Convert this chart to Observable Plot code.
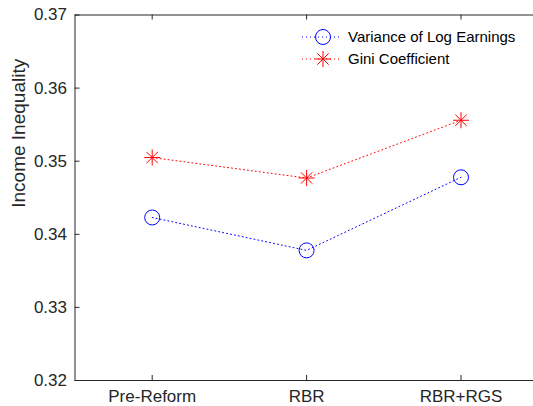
<!DOCTYPE html>
<html><head><meta charset="utf-8">
<script src="https://cdn.jsdelivr.net/npm/d3@7"></script>
<script src="https://cdn.jsdelivr.net/npm/@observablehq/plot@0.6"></script>
<style>
html,body{margin:0;padding:0;background:#fff;overflow:hidden;}
#wrap{position:relative;width:533px;height:406px;overflow:hidden;}
#legend{position:absolute;left:0;top:0;}
</style></head><body><div id="wrap"></div>
<script>
const categories = ["Pre-Reform", "RBR", "RBR+RGS"];
const varianceLogEarnings = [0.3423, 0.3378, 0.3478];
const giniCoefficient = [0.3505, 0.3477, 0.3556];
const yTicks = [0.32, 0.33, 0.34, 0.35, 0.36, 0.37];
const seriesNames = ["Variance of Log Earnings", "Gini Coefficient"];
const yLabel = "Income Inequality";

const xTicks = categories.map((c, i) => i + 1);
const varData = categories.map((c, i) => ({x: i + 1, y: varianceLogEarnings[i]}));
const giniData = categories.map((c, i) => ({x: i + 1, y: giniCoefficient[i]}));

const axisColor = "#262626";
const font = "'Liberation Sans', Arial, Helvetica, sans-serif";
const blue = "#0000ff", red = "#ff0000";

const asterisk = {
  draw(ctx, size) {
    const r = Math.sqrt(size / Math.PI);
    const d = r * Math.SQRT1_2;
    ctx.moveTo(-r, 0); ctx.lineTo(r, 0);
    ctx.moveTo(0, -r); ctx.lineTo(0, r);
    ctx.moveTo(-d, -d); ctx.lineTo(d, d);
    ctx.moveTo(-d, d); ctx.lineTo(d, -d);
  }
};

const chart = Plot.plot({
  width: 533,
  height: 406,
  marginLeft: 74.5,
  marginRight: -4.7,
  marginTop: 14.5,
  marginBottom: 26,
  style: {fontFamily: font, background: "#fff", overflow: "hidden"},
  x: {domain: [0.5, 3.5], axis: null},
  y: {domain: [0.32, 0.37], axis: null},
  marks: [
    Plot.frame({stroke: axisColor, strokeWidth: 1}),
    Plot.ruleY(yTicks, {x1: 0.5, x2: 0.5, y: d => d, insetRight: -5, stroke: axisColor}),
    Plot.ruleX(xTicks, {x: d => d, y1: 0.32, y2: 0.32, insetBottom: 5, stroke: axisColor}),
    Plot.ruleX(xTicks, {x: d => d, y1: 0.37, y2: 0.37, insetTop: 5, stroke: axisColor}),
    Plot.axisY(yTicks, {anchor: "left", tickSize: 0, tickPadding: 8, tickFormat: d3.format(".2f"), fontSize: 17, fill: axisColor, label: null}),
    Plot.axisX(xTicks, {anchor: "bottom", tickSize: 0, tickPadding: 9, tickFormat: d => categories[d - 1], fontSize: 17, fill: axisColor, label: null}),
    Plot.text([yLabel], {frameAnchor: "left", rotate: -90, dx: -56, dy: 10, text: d => d, fontSize: 19, fill: axisColor}),
    Plot.line(varData, {x: "x", y: "y", stroke: blue, strokeWidth: 1, strokeDasharray: "1,3"}),
    Plot.line(giniData, {x: "x", y: "y", stroke: red, strokeWidth: 1, strokeDasharray: "1,3"}),
    Plot.dot(varData, {x: "x", y: "y", r: 7.5, symbol: "circle", stroke: blue, fill: "none", strokeWidth: 1}),
    Plot.dot(giniData, {x: "x", y: "y", r: 8, symbol: asterisk, stroke: red, fill: "none", strokeWidth: 1})
  ]
});

const wrap = document.getElementById("wrap");
wrap.appendChild(chart);

// Legend overlay
const leg = d3.select(wrap).append("svg").attr("id", "legend")
  .attr("width", 533).attr("height", 406);
const rows = [
  {name: seriesNames[0], color: blue, sym: d3.symbolCircle, r: 7.5, y: 37},
  {name: seriesNames[1], color: red, sym: asterisk, r: 8, y: 59}
];
rows.forEach(row => {
  leg.append("line").attr("x1", 302).attr("x2", 342).attr("y1", row.y).attr("y2", row.y)
    .attr("stroke", row.color).attr("stroke-dasharray", "1,3");
  leg.append("path").attr("d", d3.symbol(row.sym, Math.PI * row.r * row.r)())
    .attr("transform", `translate(323,${row.y})`)
    .attr("fill", "none").attr("stroke", row.color);
  leg.append("text").attr("x", 348).attr("y", row.y).attr("dy", "0.36em")
    .attr("font-family", font).attr("font-size", 15).attr("fill", "#000").text(row.name);
});
</script>
</body></html>
